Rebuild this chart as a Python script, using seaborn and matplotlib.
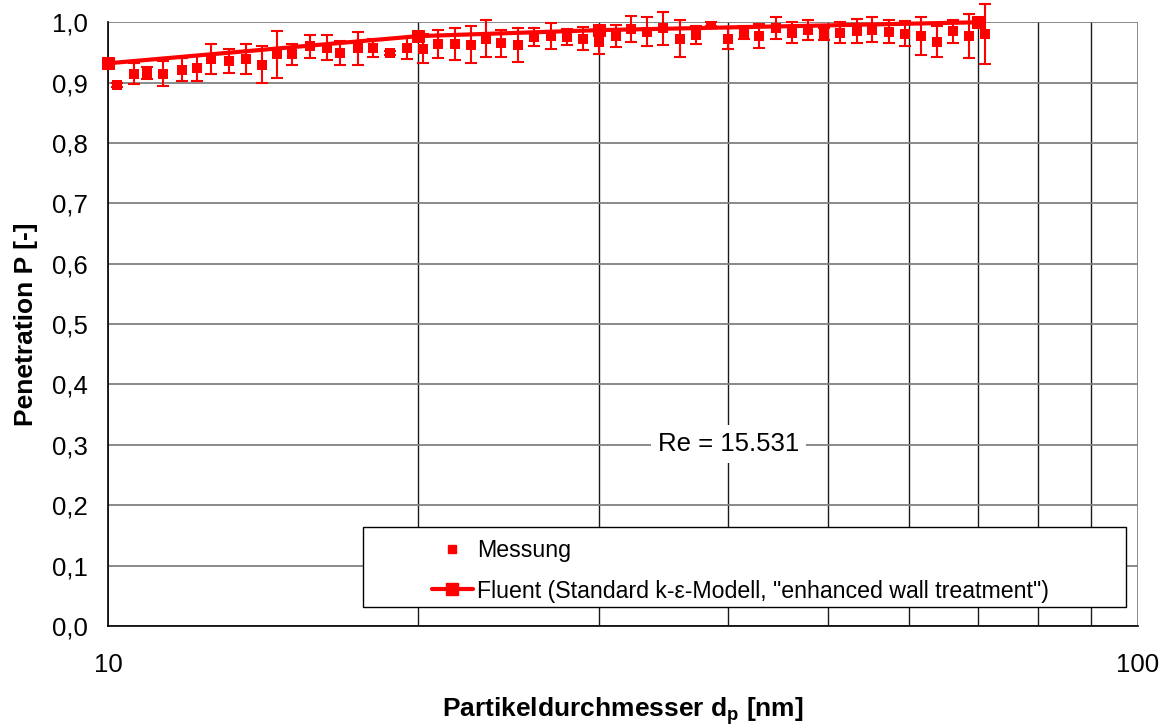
import matplotlib
matplotlib.use("Agg")
import matplotlib.pyplot as plt
from matplotlib.lines import Line2D
from matplotlib.patches import Rectangle
from matplotlib.ticker import FixedLocator, NullFormatter
import pandas as pd
import seaborn as sns

# SMPS channel midpoints (64 channels per decade), nm
diameter_nm = [10.2, 10.6, 10.9, 11.3, 11.8, 12.2, 12.6, 13.1, 13.6, 14.1,
               14.6, 15.1, 15.7, 16.3, 16.8, 17.5, 18.1, 18.8, 19.5, 20.2,
               20.9, 21.7, 22.5, 23.3, 24.1, 25.0, 25.9, 26.9, 27.9, 28.9,
               30.0, 31.1, 32.2, 33.4, 34.6, 35.9, 37.2, 38.5, 40.0, 41.4,
               42.9, 44.5, 46.1, 47.8, 49.6, 51.4, 53.3, 55.2, 57.3, 59.4,
               61.5, 63.8, 66.1, 68.5, 71.0]

# Measured penetration and its standard deviation
penetration = [0.896, 0.915, 0.916, 0.915, 0.921, 0.924, 0.939, 0.936, 0.939, 0.930,
               0.947, 0.947, 0.960, 0.958, 0.949, 0.957, 0.957, 0.949, 0.957, 0.956,
               0.964, 0.964, 0.963, 0.973, 0.965, 0.962, 0.975, 0.977, 0.976, 0.973,
               0.967, 0.977, 0.989, 0.984, 0.990, 0.973, 0.979, 0.997, 0.973, 0.983,
               0.977, 0.991, 0.983, 0.987, 0.981, 0.983, 0.985, 0.988, 0.984, 0.981,
               0.977, 0.968, 0.985, 0.977, 0.981]
penetration_err = [0.004, 0.017, 0.010, 0.020, 0.019, 0.022, 0.025, 0.020, 0.025, 0.030,
                   0.039, 0.017, 0.019, 0.021, 0.020, 0.027, 0.015, 0.003, 0.018, 0.024,
                   0.023, 0.026, 0.030, 0.030, 0.022, 0.028, 0.015, 0.021, 0.013, 0.019,
                   0.020, 0.018, 0.021, 0.024, 0.027, 0.030, 0.015, 0.004, 0.017, 0.010,
                   0.020, 0.018, 0.017, 0.016, 0.010, 0.017, 0.020, 0.020, 0.019, 0.021,
                   0.031, 0.025, 0.019, 0.036, 0.050]

# CFD result (Fluent, standard k-epsilon, enhanced wall treatment)
fluent_d = [10, 20, 30, 70]
fluent_p = [0.932, 0.977, 0.987, 1.000]

y_ticks = [0.0, 0.1, 0.2, 0.3, 0.4, 0.5, 0.6, 0.7, 0.8, 0.9, 1.0]
y_tick_labels = ["0,0", "0,1", "0,2", "0,3", "0,4", "0,5", "0,6", "0,7", "0,8", "0,9", "1,0"]
x_ticks = [10, 100]
x_tick_labels = ["10", "100"]
x_minor = [20, 30, 40, 50, 60, 70, 80, 90]

label_measured = "Messung"
label_fluent = 'Fluent (Standard k-ε-Modell, "enhanced wall treatment")'
annotation = "Re = 15.531"

meas = pd.DataFrame({"d": diameter_nm, "P": penetration, "err": penetration_err})
cfd = pd.DataFrame({"d": fluent_d, "P": fluent_p})

sns.set_theme(style="white")
plt.rcParams["font.family"] = ["Liberation Sans", "DejaVu Sans"]
plt.rcParams["text.color"] = "black"
plt.rcParams["axes.labelcolor"] = "black"

fig = plt.figure(figsize=(11.68, 7.25), dpi=100)
ax = fig.add_axes([0.0925, 0.1366, 0.8818, 0.8327])

red = "#ff0000"

# error bars of the measurement
ax.errorbar(meas["d"], meas["P"], yerr=meas["err"], fmt="none", ecolor=red,
            elinewidth=1.5, capsize=4.0, capthick=1.5, zorder=3, clip_on=False)
sns.scatterplot(data=meas, x="d", y="P", ax=ax, marker="s", s=42, color=red,
                edgecolor=red, linewidth=0, zorder=3, legend=False)
sns.lineplot(data=cfd, x="d", y="P", ax=ax, color=red, lw=3.0, marker="s",
             markersize=8.5, markeredgecolor=red, markerfacecolor=red,
             zorder=4, clip_on=False, legend=False)

ax.set_xscale("log")
ax.set_xlim(10, 100)
ax.set_ylim(0, 1.0)
ax.xaxis.set_major_locator(FixedLocator(x_ticks))
ax.set_xticklabels(x_tick_labels)
ax.xaxis.set_minor_locator(FixedLocator(x_minor))
ax.xaxis.set_minor_formatter(NullFormatter())
ax.set_yticks(y_ticks)
ax.set_yticklabels(y_tick_labels)

ax.tick_params(axis="both", which="major", direction="out", length=5.5, width=1.0,
               color="black", labelsize=18.5, labelcolor="black")
ax.tick_params(axis="x", which="major", pad=14)
ax.tick_params(axis="y", which="major", pad=9)
ax.tick_params(axis="x", which="minor", length=0)

# grid
ax.grid(True, which="major", axis="y", color="#808080", lw=1.3, zorder=1)
ax.grid(True, which="major", axis="x", color="#808080", lw=1.3, zorder=1)
ax.grid(True, which="minor", axis="x", color="#1a1a1a", lw=1.0, zorder=1)
ax.set_axisbelow(True)

for side in ("top", "right"):
    ax.spines[side].set_visible(False)
for side in ("left", "bottom"):
    ax.spines[side].set_color("black")
    ax.spines[side].set_linewidth(1.2)
    ax.spines[side].set_zorder(2)

ax.set_xlabel("Partikeldurchmesser d$_\\mathregular{p}$ [nm]", fontsize=19,
              fontweight="bold", labelpad=13, color="black")
ax.set_ylabel("Penetration P [-]", fontsize=19, fontweight="bold", labelpad=10,
              color="black")

ax.text(40, 0.302, annotation, ha="center", va="center", fontsize=18.5,
        color="black", zorder=5,
        bbox=dict(facecolor="white", edgecolor="none", pad=5))

# legend box with its entries
frame = Rectangle((0.2476, 0.0315), 0.7404, 0.1325, transform=ax.transAxes,
                  facecolor="white", edgecolor="black", lw=1.0, zorder=6)
ax.add_patch(frame)
handles = [
    Line2D([], [], linestyle="none", marker="s", markersize=6, color=red),
    Line2D([], [], color=red, lw=3.0, marker="s", markersize=8.5),
]
leg = ax.legend(handles, [label_measured, label_fluent], loc="upper left",
                bbox_to_anchor=(0.3145, 0.1437), frameon=False, fontsize=16.7,
                borderpad=0, borderaxespad=0, handlelength=1.75,
                handletextpad=0.2, labelspacing=0.75, labelcolor="black")
leg.set_zorder(7)

fig.savefig("out.png", dpi=100)
